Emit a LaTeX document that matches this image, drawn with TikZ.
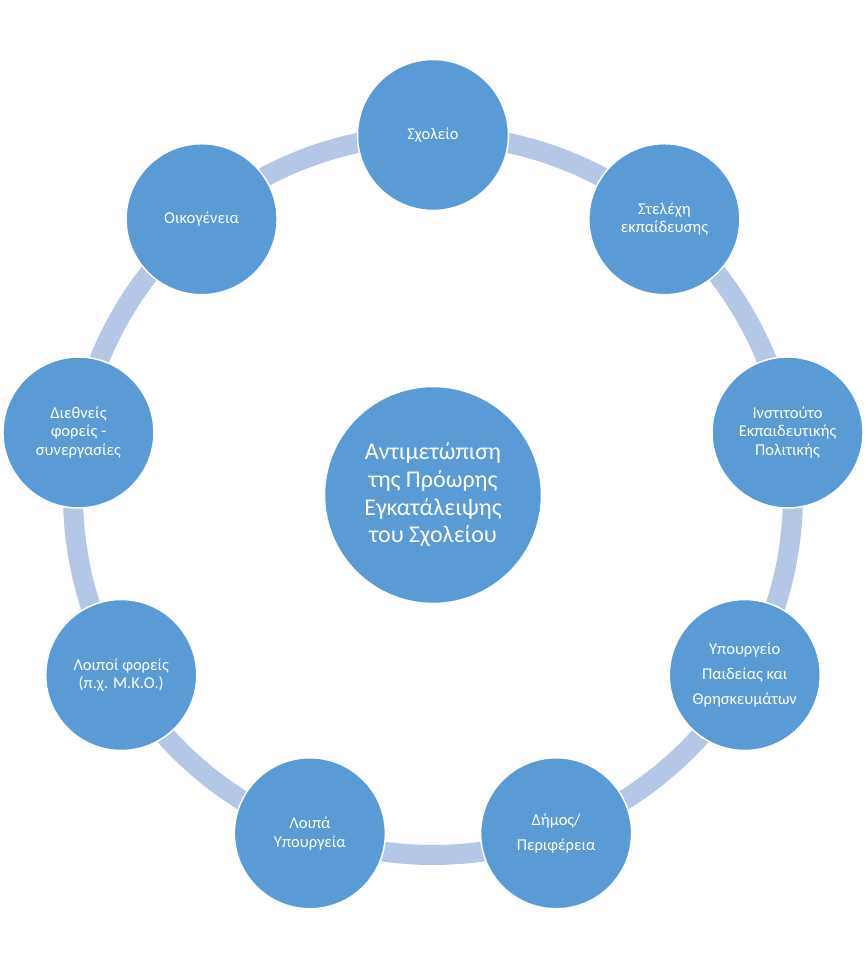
\documentclass[tikz,border=0pt]{standalone}
\usepackage{fontspec}
\setmainfont{Carlito}
\usepackage{tikz}
\usetikzlibrary{backgrounds}

\definecolor{circblue}{HTML}{5B9BD5}
\definecolor{ringblue}{HTML}{B4C7E7}

\tikzset{
	actor/.style={circle, fill=circblue, draw=white, line width=1.5pt,
		minimum size=151pt, inner sep=0pt, text=white, align=center,
		font=\fontsize{16.5}{18.5}\selectfont},
	wideactor/.style={actor, font=\fontsize{16.5}{25}\selectfont},
	core/.style={actor, minimum size=217pt, font=\fontsize{24}{27.7}\selectfont},
	band/.style={ringblue, line width=20pt, bend left=20, looseness=0.88}
}

\begin{document}
\begin{tikzpicture}[x=1pt, y=1pt]
		\useasboundingbox (-433,-475) rectangle (434,495);
		%----------------------------------------------------
		% centre: the topic
		%----------------------------------------------------
		\node[core] (centre) at (0,0)
			{Αντιμετώπιση\\της Πρόωρης\\Εγκατάλειψης\\του Σχολείου};
		
		%----------------------------------------------------
		% actors round the ring, 40 degrees apart
		%----------------------------------------------------
		\node[actor] (school) at (90:360) {Σχολείο};
		\node[actor] (staff) at (50:360) {Στελέχη\\εκπαίδευσης};
		\node[actor] (iep) at (10:360) {Ινστιτούτο\\Εκπαιδευτικής\\Πολιτικής};
		\node[wideactor] (ministry) at (-30:360) {Υπουργείο\\Παιδείας και\\Θρησκευμάτων};
		\node[wideactor] (municipality) at (-70:360) {Δήμος/\\Περιφέρεια};
		\node[actor] (ministries) at (-110:360) {Λοιπά\\Υπουργεία};
		\node[actor] (ngos) at (-150:360) {Λοιποί φορείς\\(π.χ. Μ.Κ.Ο.)};
		\node[actor] (intl) at (170:360) {Διεθνείς\\φορείς -\\συνεργασίες};
		\node[actor] (family) at (130:360) {Οικογένεια};
		
		% the ring behind the circles
		\begin{scope}[on background layer]
			\draw[band] (school.center) to (staff.center);
			\draw[band] (staff.center) to (iep.center);
			\draw[band] (iep.center) to (ministry.center);
			\draw[band] (ministry.center) to (municipality.center);
			\draw[band] (municipality.center) to (ministries.center);
			\draw[band] (ministries.center) to (ngos.center);
			\draw[band] (ngos.center) to (intl.center);
			\draw[band] (intl.center) to (family.center);
			\draw[band] (family.center) to (school.center);
		\end{scope}
	\end{tikzpicture}
\end{document}
